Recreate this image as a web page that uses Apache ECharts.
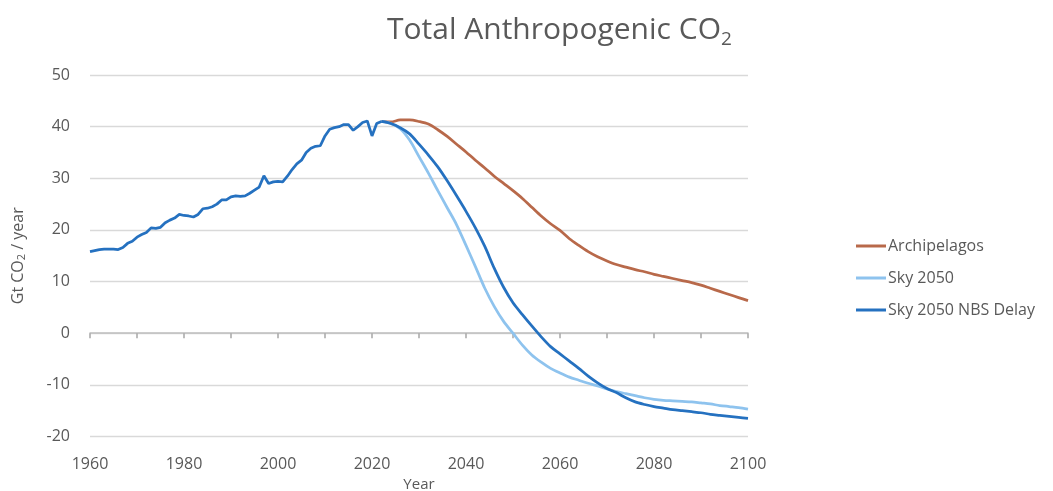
<!DOCTYPE html>
<html>
<head>
<meta charset="utf-8">
<script src="https://cdn.jsdelivr.net/npm/echarts@6/dist/echarts.min.js"></script>
<style>
html,body{margin:0;padding:0;background:#fff;}
#chart{width:1053px;height:491px;}
</style>
</head>
<body>
<div id="chart"></div>
<script>
// ---- DATA ----
var histYears = [1960,1961,1962,1963,1964,1965,1966,1967,1968,1969,1970,1971,1972,1973,1974,1975,1976,1977,1978,1979,
  1980,1981,1982,1983,1984,1985,1986,1987,1988,1989,1990,1991,1992,1993,1994,1995,1996,1997,1998,1999,
  2000,2001,2002,2003,2004,2005,2006,2007,2008,2009,2010,2011,2012,2013,2014,2015,2016,2017,2018,2019,
  2020,2021,2022];
var histValues = [15.8,16.0,16.2,16.3,16.3,16.3,16.2,16.6,17.4,17.8,18.6,19.1,19.5,20.4,20.3,20.5,21.4,21.9,22.3,23.0,
  22.8,22.7,22.5,23.0,24.1,24.2,24.5,25.0,25.8,25.8,26.4,26.6,26.5,26.6,27.1,27.7,28.3,30.5,29.0,29.3,
  29.4,29.3,30.4,31.7,32.8,33.5,35.0,35.8,36.2,36.3,38.2,39.5,39.8,40.0,40.4,40.4,39.3,40.0,40.8,41.1,
  38.2,40.6,41.0];
var projYears = [2022,2024,2026,2028,2030,2032,2034,2036,2038,2040,2042,2044,2046,2048,2050,2052,2054,2056,2058,2060,
  2062,2064,2066,2068,2070,2072,2074,2076,2078,2080,2082,2084,2086,2088,2090,2092,2094,2096,2098,2100];
var archipelagos = [41.0,40.9,41.3,41.3,41.0,40.5,39.4,38.1,36.6,35.1,33.5,32.0,30.4,29.0,27.6,26.1,24.4,22.7,21.2,19.9,
  18.3,17.0,15.8,14.8,14.0,13.3,12.8,12.3,11.9,11.4,11.0,10.6,10.2,9.8,9.3,8.7,8.1,7.5,6.9,6.3];
var sky2050 = [41.0,40.6,39.6,37.4,34.2,31.0,27.6,24.3,21.0,17.0,12.9,8.7,5.2,2.3,0.0,-2.3,-4.2,-5.6,-6.8,-7.7,
  -8.5,-9.1,-9.7,-10.2,-10.8,-11.3,-11.7,-12.1,-12.5,-12.8,-13.0,-13.1,-13.2,-13.3,-13.5,-13.7,-14.0,-14.2,-14.4,-14.7];
var sky2050Nbs = [41.0,40.6,39.8,38.6,36.6,34.5,32.2,29.5,26.6,23.6,20.4,16.8,12.6,8.9,5.9,3.6,1.4,-0.7,-2.6,-4.0,
  -5.4,-6.8,-8.3,-9.6,-10.7,-11.5,-12.5,-13.3,-13.8,-14.2,-14.5,-14.8,-15.0,-15.2,-15.4,-15.7,-15.9,-16.1,-16.3,-16.5];
var seriesNames = ['Archipelagos','Sky 2050','Sky 2050 NBS Delay'];
var xTicks = {min:1960, max:2100, labelStep:20, tickStep:10};
var yTicks = {min:-20, max:50, step:10};

function pairs(xs, ys){ return xs.map(function(x,i){ return [x, ys[i]]; }); }

var FONT = 'Open Sans';
var TXT = '#595959';
var colors = ['#B8694A','#8EC3EE','#2571C0'];
var LW = 2.75;

var chart = echarts.init(document.getElementById('chart'), null, {renderer:'canvas'});
chart.setOption({
  animation:false,
  backgroundColor:'#ffffff',
  title:{
    text:'{t|Total Anthropogenic CO}{s|2}',
    left:382, top:6,
    textStyle:{
      rich:{
        t:{fontFamily:FONT, fontSize:30, fontWeight:'normal', color:TXT, lineHeight:38},
        s:{fontFamily:FONT, fontSize:19, fontWeight:'normal', color:TXT, lineHeight:38, padding:[19,0,0,0]}
      }
    }
  },
  legend:{
    orient:'vertical', left:851, top:233,
    itemGap:16, itemWidth:30, itemHeight:3, icon:'rect',
    data:seriesNames,
    textStyle:{fontFamily:FONT, fontSize:16, color:TXT, padding:[0,0,0,-3]}
  },
  grid:{left:90, right:305, top:75, bottom:54.5, containLabel:false, outerBoundsMode:'none'},
  xAxis:[
    {type:'value', min:xTicks.min, max:xTicks.max, interval:xTicks.labelStep, position:'bottom',
     axisLine:{show:false, onZero:false}, axisTick:{show:false}, splitLine:{show:false},
     axisLabel:{fontFamily:FONT, fontSize:16, color:TXT, margin:20, formatter:function(v){return String(v);}},
     name:'Year', nameLocation:'middle', nameGap:40,
     nameTextStyle:{fontFamily:FONT, fontSize:15, color:TXT}},
    {type:'value', min:xTicks.min, max:xTicks.max, interval:xTicks.tickStep, position:'bottom',
     axisLine:{show:true, onZero:true, onZeroAxisIndex:0, lineStyle:{color:'#BFBFBF', width:1.5}},
     axisTick:{show:true, length:5, lineStyle:{color:'#A6A6A6', width:1.5}},
     axisLabel:{show:false}, splitLine:{show:false}}
  ],
  yAxis:{
    type:'value', min:yTicks.min, max:yTicks.max, interval:yTicks.step,
    axisLine:{show:false, onZero:false}, axisTick:{show:false},
    splitLine:{show:true, lineStyle:{color:'#D9D9D9', width:1.3}},
    axisLabel:{fontFamily:FONT, fontSize:16, color:TXT, margin:20},
    name:'{t|Gt CO}{s|2}{t| / year}', nameLocation:'middle', nameGap:62,
    nameTextStyle:{
      rich:{
        t:{fontFamily:FONT, fontSize:16, color:TXT, lineHeight:20},
        s:{fontFamily:FONT, fontSize:11, color:TXT, lineHeight:20, padding:[8,0,0,0]}
      }
    }
  },
  series:[
    {name:seriesNames[0], type:'line', xAxisIndex:0, data:pairs(projYears, archipelagos), smooth:0.3,
     showSymbol:false, symbol:'none', lineStyle:{color:colors[0], width:LW}, itemStyle:{color:colors[0]}},
    {name:seriesNames[1], type:'line', xAxisIndex:0, data:pairs(projYears, sky2050), smooth:0.3,
     showSymbol:false, symbol:'none', lineStyle:{color:colors[1], width:LW}, itemStyle:{color:colors[1]}},
    {name:seriesNames[2], type:'line', xAxisIndex:0, data:pairs(projYears, sky2050Nbs), smooth:0.3,
     showSymbol:false, symbol:'none', lineStyle:{color:colors[2], width:LW}, itemStyle:{color:colors[2]}},
    {name:seriesNames[2], type:'line', xAxisIndex:0, data:pairs(histYears, histValues), smooth:false,
     showSymbol:false, symbol:'none', lineStyle:{color:colors[2], width:LW}, itemStyle:{color:colors[2]}}
  ]
});
</script>
</body>
</html>
